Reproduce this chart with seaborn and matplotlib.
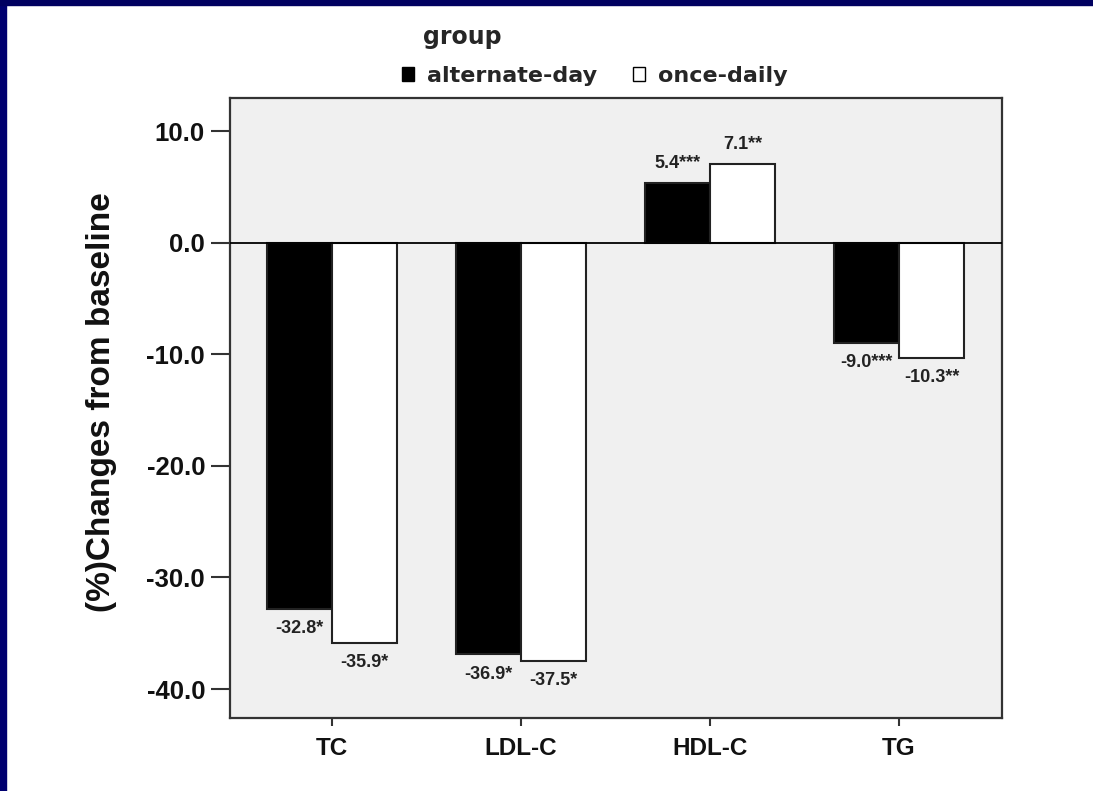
import matplotlib
matplotlib.use('Agg')

from matplotlib import pyplot as plt
from matplotlib.patches import Rectangle, Patch
import pandas as pd
import seaborn as sns


metrics = ['TC', 'LDL-C', 'HDL-C', 'TG']
groups = ['alternate-day', 'once-daily']
alternate_day = [-32.8, -36.9, 5.4, -9.0]
once_daily = [-35.9, -37.5, 7.1, -10.3]
alternate_stars = ['*', '*', '***', '***']
once_stars = ['*', '*', '**', '**']
y_ticks = [10, 0, -10, -20, -30, -40]

FONT = 'Liberation Sans'
LEGEND_FONT = 'DejaVu Sans'


def build_frame():
    rows = []
    for name, values in zip(groups, [alternate_day, once_daily]):
        for metric, value in zip(metrics, values):
            rows.append({'metric': metric, 'group': name, 'value': value})
    return pd.DataFrame(rows)


def run():
    sns.set_style('white')
    plt.rcParams['font.family'] = [FONT, 'DejaVu Sans']

    fig = plt.figure(figsize=(10.93, 7.91), dpi=100)
    fig.patch.set_facecolor('white')

    # navy frame of the slide
    fig.patches.append(Rectangle((0, 0), 6 / 1093, 1, transform=fig.transFigure,
                                 color='#000070', zorder=0))
    fig.patches.append(Rectangle((0, 1 - 5 / 791), 1, 5 / 791, transform=fig.transFigure,
                                 color='#000060', zorder=0))

    ax = fig.add_axes([230 / 1093, 1 - 718 / 791, 772 / 1093, 620 / 791])
    ax.set_facecolor('#f0f0f0')

    df = build_frame()
    sns.barplot(data=df, x='metric', y='value', hue='group',
                order=metrics, hue_order=groups,
                palette=['black', 'white'], saturation=1,
                edgecolor='#222222', linewidth=1.5, width=0.69,
                errorbar=None, legend=False, ax=ax, zorder=3)

    ax.axhline(0, color='black', lw=1.3, zorder=4)
    ax.set_ylim(-42.6, 13.0)
    ax.set_xlim(-0.54, 3.545)
    ax.set_yticks(y_ticks)
    ax.set_yticklabels(['%.1f' % t for t in y_ticks])
    ax.tick_params(axis='y', length=14, width=1.5, color='#333333', pad=4,
                   labelsize=18.5)
    ax.tick_params(axis='x', length=6, width=1.5, color='#333333', pad=8,
                   labelsize=17.5)
    for lab in ax.get_xticklabels() + ax.get_yticklabels():
        lab.set_fontweight('bold')
        lab.set_color('#111111')
    ax.tick_params(left=True, bottom=True)

    for spine in ax.spines.values():
        spine.set_color('#333333')
        spine.set_linewidth(1.6)

    ax.set_xlabel('')
    ax.set_ylabel('(%)Changes from baseline', fontsize=24, fontweight='bold',
                  color='#111111')
    ax.yaxis.set_label_coords(-0.146, 0.51)

    # value labels with significance stars
    for container, values, stars in zip(ax.containers,
                                        [alternate_day, once_daily],
                                        [alternate_stars, once_stars]):
        labels = ['%.1f%s' % (v, s) for v, s in zip(values, stars)]
        ax.bar_label(container, labels=labels, padding=8, fontsize=13,
                     fontweight='bold', color='#222222')

    # legend above the axes
    fig.text(423 / 1093, 1 - 37 / 791, 'group', fontsize=17, fontweight='bold',
             family=LEGEND_FONT, ha='left', va='center')
    handles = [Patch(facecolor='black', edgecolor='black', lw=1),
               Patch(facecolor='white', edgecolor='black', lw=1)]
    fig.legend(handles, groups, loc='center left', ncol=2, frameon=False,
               bbox_to_anchor=(386 / 1093, 1 - 76 / 791),
               handlelength=0.55, handleheight=0.55, handletextpad=0.6,
               columnspacing=1.6, borderpad=0.2,
               prop={'family': LEGEND_FONT, 'weight': 'bold', 'size': 16})

    fig.savefig('out.png', dpi=100, facecolor='white')


if __name__ == '__main__':
    run()
